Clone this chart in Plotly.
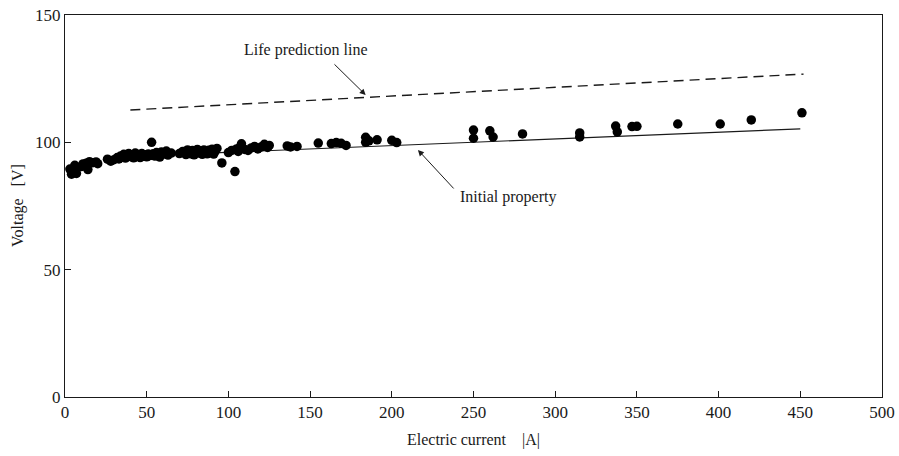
import plotly.graph_objects as go

# Scatter measurements: electric current [A] and voltage [V]
current = [3, 4, 5, 6, 7, 10, 11, 13, 14, 15, 17, 19, 20, 26, 28, 30,
           32, 33, 34, 35, 36, 37, 38, 39, 40, 41, 42, 43, 44, 45, 46, 47, 48,
           49, 50, 51, 52, 53, 54, 55, 56, 57, 58, 59, 60, 62, 63, 65,
           70, 72, 74, 75, 76, 77, 78, 79, 80, 81, 82, 83, 84, 85, 86, 87, 88,
           89, 90, 91, 92, 93, 96, 100, 102, 104, 105, 106, 107, 108, 110, 112,
           114, 116, 118, 120, 122, 124, 125, 136, 138, 142, 155, 163, 166, 169,
           172, 184, 184, 186, 191, 200, 203, 250, 250, 260, 262, 280, 315, 315,
           337, 338, 347, 350, 375, 401, 420, 451]
voltage = [89.5, 87.5, 88.2, 91.0, 87.8, 90.5, 91.5, 91.8, 89.3, 92.4, 92.0, 92.3, 91.6, 93.4, 92.6, 93.2,
           94.0, 93.5, 94.6, 94.2, 95.3, 93.8, 94.8, 95.6, 94.4, 95.0, 93.9, 95.8, 94.7, 95.2, 94.0, 95.6, 94.5,
           95.1, 94.3, 95.4, 94.8, 100.0, 95.5, 94.6, 96.0, 95.1, 94.2, 96.2, 95.4, 96.6, 95.0, 95.8,
           95.6, 96.4, 95.2, 97.0, 96.0, 95.5, 96.8, 95.1, 96.3, 97.2, 95.8, 96.6, 95.3, 97.0, 96.2, 95.5, 96.9,
           96.0, 97.3, 95.4, 96.6, 97.6, 91.9, 96.0, 96.8, 88.5, 97.4, 96.4, 98.0, 99.4, 97.2, 96.8,
           97.8, 98.4, 97.4, 98.2, 99.2, 98.0, 98.8, 98.6, 98.2, 98.4, 99.7, 99.5, 99.9, 99.6,
           98.8, 102.0, 100.0, 100.6, 101.0, 100.8, 99.9, 104.8, 101.6, 104.5, 102.1, 103.3, 103.7, 102.1,
           106.4, 104.1, 106.2, 106.3, 107.2, 107.2, 108.8, 111.6]

# Reference lines
life_x = [40, 452]
life_y = [112.7, 126.8]
init_x = [40, 450]
init_y = [94.5, 105.3]

x_ticks = [0, 50, 100, 150, 200, 250, 300, 350, 400, 450, 500]
y_ticks = [0, 50, 100, 150]

FONT = "Liberation Serif"
INK = "#1a1a1a"

fig = go.Figure()
fig.add_trace(go.Scatter(x=life_x, y=life_y, mode="lines",
                         line=dict(color=INK, width=1.4, dash="10px,6px"),
                         showlegend=False, hoverinfo="skip"))
fig.add_trace(go.Scatter(x=init_x, y=init_y, mode="lines",
                         line=dict(color=INK, width=1.2),
                         showlegend=False, hoverinfo="skip"))
fig.add_trace(go.Scatter(x=current, y=voltage, mode="markers",
                         marker=dict(color="black", size=9.5, line=dict(width=0)),
                         showlegend=False))

# Annotations
fig.add_annotation(x=184, y=118.6, ax=164, ay=131.2, axref="x", ayref="y",
                   text="", showarrow=True, arrowhead=2, arrowsize=1.2,
                   arrowwidth=1, arrowcolor=INK)
fig.add_annotation(x=147.5, y=136.3, text="Life prediction line", showarrow=False,
                   font=dict(family=FONT, size=16, color=INK), xanchor="center", yanchor="middle")
fig.add_annotation(x=216, y=97.0, ax=238.7, ay=81.3, axref="x", ayref="y",
                   text="", showarrow=True, arrowhead=2, arrowsize=1.2,
                   arrowwidth=1, arrowcolor=INK)
fig.add_annotation(x=240.5, y=78.5, text="Initial property", showarrow=False,
                   font=dict(family=FONT, size=16, color=INK), xanchor="left", yanchor="middle")

# Y-axis title placed as paper text so it sits where the reference has it
fig.add_annotation(x=18, y=0.5, xref="paper", yref="paper", text="Voltage\u00a0\u00a0\u00a0[V]",
                   showarrow=False, textangle=-90,
                   font=dict(family=FONT, size=16, color=INK), xanchor="center", yanchor="middle")

fig.update_layout(
    width=899, height=456,
    margin=dict(l=65, r=17, t=15, b=59, autoexpand=False),
    paper_bgcolor="white", plot_bgcolor="white",
    font=dict(family=FONT, size=16, color=INK),
    xaxis=dict(range=[0, 500], tickvals=x_ticks, ticks="inside", ticklen=6,
               showgrid=False, zeroline=False, showline=True, mirror=True,
               linecolor=INK, linewidth=1, tickcolor=INK, automargin=False,
               tickfont=dict(family=FONT, size=17, color=INK),
               title=dict(text="Electric current\u00a0\u00a0\u00a0\u00a0|A|",
                          font=dict(family=FONT, size=16, color=INK), standoff=12)),
    yaxis=dict(range=[0, 150], tickvals=y_ticks, ticks="inside", ticklen=6,
               showgrid=False, zeroline=False, showline=True, mirror=True,
               linecolor=INK, linewidth=1, tickcolor=INK, automargin=False,
               tickfont=dict(family=FONT, size=17, color=INK)),
)
# convert the paper x for the y title: 18 px from the left edge
fig.layout.annotations[-1].update(x=(18 - 65) / (899 - 65 - 17))

fig.write_html("out.html")
